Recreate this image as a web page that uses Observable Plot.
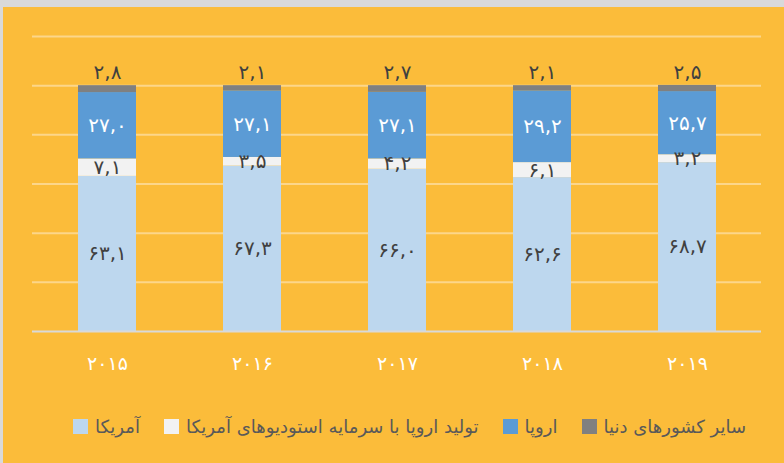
<!DOCTYPE html>
<html>
<head>
<meta charset="utf-8">
<script src="https://cdn.jsdelivr.net/npm/d3@7"></script>
<script src="https://cdn.jsdelivr.net/npm/@observablehq/plot@0.6"></script>
<style>
  html, body { margin: 0; padding: 0; background: #D9D9D9; }
  #frame { position: absolute; left: 3px; top: 7px; width: 781px; height: 456px; background: #FBBC3A; overflow: hidden; }
  #chart { position: absolute; left: 0; top: 0; }
  #legend { position: absolute; left: 32px; width: 781px; top: 409px; display: flex; justify-content: center; align-items: center; direction: ltr;
            font-family: "DejaVu Sans", sans-serif; font-size: 18px; color: #595959; }
  .item { display: flex; align-items: center; margin-right: 24px; }
  .item:last-child { margin-right: 0; }
  .sw { width: 15px; height: 15px; margin-right: 7px; }
</style>
</head>
<body>
<div id="frame">
  <div id="chart"></div>
  <div id="legend"></div>
</div>
<script>
const years = ["2015", "2016", "2017", "2018", "2019"];
const yearLabels = ["۲۰۱۵", "۲۰۱۶", "۲۰۱۷", "۲۰۱۸", "۲۰۱۹"];
const series = ["آمریکا", "تولید اروپا با سرمایه استودیوهای آمریکا", "اروپا", "سایر کشورهای دنیا"];
const colors = ["#BDD7EE", "#F2F2F2", "#5B9BD5", "#808080"];
const america = [63.1, 67.3, 66.0, 62.6, 68.7];
const usFundedEurope = [7.1, 3.5, 4.2, 6.1, 3.2];
const europe = [27.0, 27.1, 27.1, 29.2, 25.7];
const others = [2.8, 2.1, 2.7, 2.1, 2.5];
const yTicks = [20, 40, 60, 80, 100, 120];

const seriesValues = [america, usFundedEurope, europe, others];
const data = [];
years.forEach((y, i) => {
  seriesValues.forEach((vals, s) => {
    data.push({year: y, series: series[s], value: vals[i]});
  });
});

const faDigits = "۰۱۲۳۴۵۶۷۸۹";
const fa = (v) => v.toFixed(1).replace(".", ",").replace(/[0-9]/g, (c) => faDigits[+c]);
const font = "DejaVu Sans, sans-serif";
const yearFormat = (d) => yearLabels[years.indexOf(d)];

const base = {x: "year", y: "value", z: "series", order: series};

const chart = Plot.plot({
  width: 781,
  height: 390,
  marginLeft: 29,
  marginRight: 23,
  marginTop: 29,
  marginBottom: 66,
  style: {background: "transparent", fontFamily: font, overflow: "visible"},
  x: {domain: years, paddingInner: 0.6, paddingOuter: 0.3, label: null, tickFormat: yearFormat},
  y: {domain: [0, 120], axis: null},
  color: {domain: series, range: colors},
  marks: [
    Plot.ruleY(yTicks, {stroke: "#FCD68A", strokeWidth: 2}),
    Plot.barY(data, {...base, fill: "series"}),
    Plot.ruleY([0], {stroke: "#D9D9D9", strokeWidth: 2}),
    Plot.text(data, Plot.stackY({...base,
      text: (d) => (d.series === series[0] || d.series === series[1]) ? fa(d.value) : null,
      fill: "#404040", fontSize: 20})),
    Plot.text(data, Plot.stackY({...base,
      text: (d) => d.series === series[2] ? fa(d.value) : null,
      fill: "#FFFFFF", fontSize: 20})),
    Plot.text(data, Plot.stackY2({...base,
      text: (d) => d.series === series[3] ? fa(d.value) : null,
      fill: "#404040", fontSize: 20, dy: -13})),
    Plot.axisX({tickSize: 0, tickPadding: 25, fill: "#FFFFFF", fontSize: 19, label: null, tickFormat: yearFormat})
  ]
});
document.getElementById("chart").appendChild(chart);

const legend = document.getElementById("legend");
legend.style.left = "0px";
series.forEach((name, i) => {
  const item = document.createElement("div");
  item.className = "item";
  const sw = document.createElement("div");
  sw.className = "sw";
  sw.style.background = colors[i];
  const label = document.createElement("span");
  label.textContent = name;
  label.dir = "rtl";
  item.appendChild(sw);
  item.appendChild(label);
  legend.appendChild(item);
});
legend.style.paddingLeft = "32px";
legend.style.boxSizing = "border-box";
</script>
</body>
</html>
